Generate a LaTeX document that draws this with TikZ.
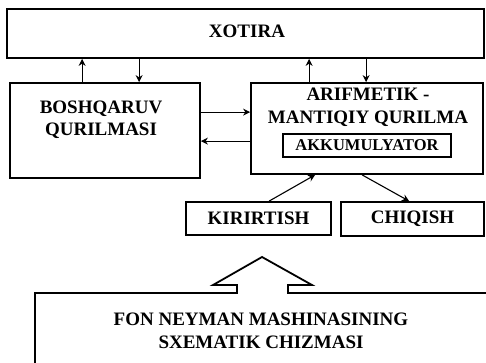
\documentclass[tikz,border=0pt]{standalone}
\usepackage{fontspec}
\setmainfont{Liberation Serif}
\usetikzlibrary{arrows.meta,calc}
\begin{document}
\begin{tikzpicture}[x=1pt,y=-1pt,
  box/.style={draw,line width=1.8pt,rectangle,inner sep=0pt},
  lbl/.style={font=\fontsize{19}{22.5}\selectfont\bfseries,align=center,inner sep=0pt},
  arr/.style={line width=1.1pt,-{Stealth[length=7pt,width=7pt]}}]
\useasboundingbox (0,0) rectangle (486,363);
% boxes
\node[box,minimum width=477pt,minimum height=49pt] (xot) at (245.5,33.5) {};
\node[lbl] (xott) at (247,31) {XOTIRA};
\node[box,minimum width=190pt,minimum height=95pt] (bosh) at (105,130.5) {};
\node[lbl] (bosht) at (101,120) {BOSHQARUV\\QURILMASI};
\node[box,minimum width=232pt,minimum height=91pt] (alu) at (367,128.5) {};
\node[lbl] (alut) at (368,107.5) {ARIFMETIK -\\MANTIQIY QURILMA};
\node[box,line width=1.2pt,minimum width=168pt,minimum height=23pt,lbl,font=\fontsize{16.5}{20}\selectfont\bfseries] (akk) at (367,145.5) {AKKUMULYATOR};
\node[box,minimum width=145pt,minimum height=33pt,lbl] (kir) at (258.5,218.5) {KIRIRTISH};
\node[box,minimum width=143pt,minimum height=34pt,lbl] (chiq) at (412.5,219) {CHIQISH};
% connectors
\draw[arr] ([xshift=73pt]bosh.north west) -- ([xshift=73pt]bosh.north west |- xot.south);
\draw[arr] ([xshift=130pt]bosh.north west |- xot.south) -- ([xshift=130pt]bosh.north west);
\draw[arr] ([xshift=59pt]alu.north west) -- ([xshift=59pt]alu.north west |- xot.south);
\draw[arr] ([xshift=116pt]alu.north west |- xot.south) -- ([xshift=116pt]alu.north west);
\draw[arr] ([yshift=-30pt]bosh.north east) -- ([yshift=-30pt]bosh.north east -| alu.west);
\draw[arr] ([yshift=-59pt]bosh.north east -| alu.west) -- ([yshift=-59pt]bosh.north east);
\draw[arr] ([xshift=84pt]kir.north west) -- ([xshift=65pt]alu.south west);
\draw[arr] ([xshift=112pt]alu.south west) -- ([xshift=69pt]chiq.north west);
% callout box with big arrow
\draw[line width=1.8pt,line join=miter]
  (35,366) -- (35,293) -- (237,293) -- (237,285) -- (213,285) -- (262,257)
  -- (312,285) -- (288,285) -- (288,293) -- (490,293);
\node[lbl] (fon) at (261,331) {FON NEYMAN MASHINASINING\\SXEMATIK CHIZMASI};
\end{tikzpicture}
\end{document}
